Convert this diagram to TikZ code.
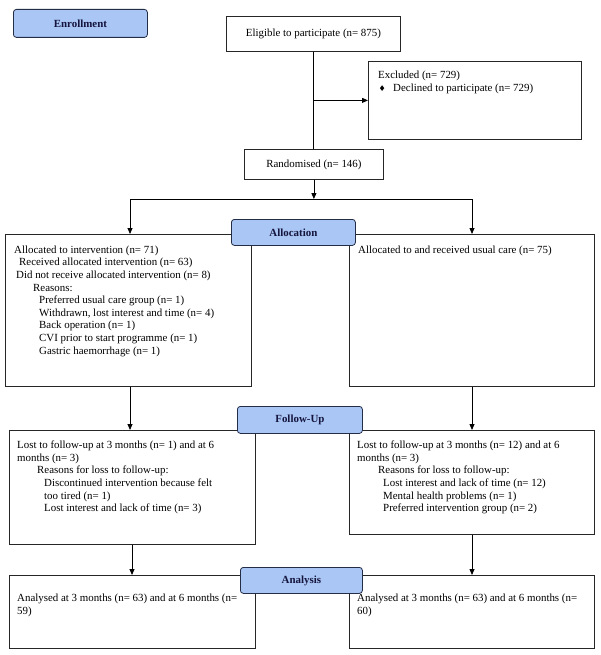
\documentclass[tikz,border=0pt]{standalone}
\usepackage{fontspec}
\setmainfont{Liberation Serif}
\newfontfamily\symfont{DejaVu Sans}
\usetikzlibrary{arrows.meta}
\definecolor{lblfill}{RGB}{170,198,245}
\definecolor{lbldraw}{RGB}{35,45,70}
\definecolor{lbltext}{RGB}{20,20,60}
\begin{document}
\begin{tikzpicture}[x=1pt,y=-1pt,
  box/.style={draw=black!85, line width=0.8pt, anchor=north west, inner sep=0pt, font=\fontsize{10.9}{12.6}\selectfont},
  lbl/.style={draw=lbldraw, fill=lblfill, rounded corners=3pt, line width=0.8pt, anchor=north west, inner sep=0pt, font=\fontsize{10.9}{12.6}\selectfont\bfseries, text=lbltext},
  txt/.style={anchor=north west, inner sep=0pt, align=left, font=\fontsize{10.9}{12.6}\selectfont},
  arr/.style={-{Triangle[length=6pt,width=5pt]}, line width=0.8pt},
  ln/.style={line width=0.8pt}]
\useasboundingbox (0,0) rectangle (600,655);
\fill[white] (0,0) rectangle (600,655);

% enrollment
\node[box, minimum width=174pt, minimum height=35pt] (elig) at (226,16) {Eligible to participate (n= 875)};
\node[box, minimum width=213pt, minimum height=78pt] (excl) at (368,61) {};
\node[txt] (exclt) at (378,69.5) {\rule{0pt}{9pt}Excluded (n= 729)\\
  \makebox[15pt][l]{\hspace{0.5pt}{\symfont\fontsize{8}{8}\selectfont ♦}}Declined to participate (n= 729)};
\node[box, minimum width=139pt, minimum height=30pt] (rand) at (244,149) {Randomised (n= 146)};

\draw[ln] (elig.south) -- (elig.south |- rand.north);
\draw[arr] (elig.south |- excl.west) -- (excl.west);

\coordinate (bl) at (130,199);
\coordinate (br) at (472,199);
\draw[arr] (rand.south) -- (rand.south |- bl);
\draw[ln] (bl) -- (br);

% allocation
\node[box, minimum width=246pt, minimum height=152pt] (la) at (5,234) {};
\node[box, minimum width=245pt, minimum height=152pt] (ra) at (349,234) {};
\node[txt] (lat) at (14,244) {\rule{0pt}{9pt}Allocated to intervention (n= 71)\\
  \hspace*{5pt}Received allocated intervention (n= 63)\\
  \hspace*{2pt}Did not receive allocated intervention (n= 8)\\
  \hspace*{19pt}Reasons:\\
  \hspace*{25pt}Preferred usual care group (n= 1)\\
  \hspace*{25pt}Withdrawn, lost interest and time (n= 4)\\
  \hspace*{25pt}Back operation (n= 1)\\
  \hspace*{25pt}CVI prior to start programme (n= 1)\\
  \hspace*{25pt}Gastric haemorrhage (n= 1)};
\node[txt] (rat) at (358,244.5) {\rule{0pt}{9pt}Allocated to and received usual care (n= 75)};
\draw[arr] (bl) -- (bl |- la.north);
\draw[arr] (br) -- (br |- ra.north);

% follow-up
\node[box, minimum width=246pt, minimum height=114pt] (lf) at (9,430) {};
\node[box, minimum width=245pt, minimum height=104pt] (rf) at (349,430) {};
\node[txt] (lft) at (17,439.5) {\rule{0pt}{9pt}Lost to follow-up at 3 months (n= 1) and at 6\\
  months (n= 3)\\
  \hspace*{20pt}Reasons for loss to follow-up:\\
  \hspace*{27pt}Discontinued intervention because felt\\
  \hspace*{27pt}too tired (n= 1)\\
  \hspace*{27pt}Lost interest and lack of time (n= 3)};
\node[txt] (rft) at (357,439.5) {\rule{0pt}{9pt}Lost to follow-up at 3 months (n= 12) and at 6\\
  months (n= 3)\\
  \hspace*{21pt}Reasons for loss to follow-up:\\
  \hspace*{26pt}Lost interest and lack of time (n= 12)\\
  \hspace*{26pt}Mental health problems (n= 1)\\
  \hspace*{26pt}Preferred intervention group (n= 2)};
\draw[arr] (bl |- la.south) -- (bl |- lf.north);
\draw[arr] (br |- ra.south) -- (br |- rf.north);

% analysis
\node[box, minimum width=246pt, minimum height=73pt] (lan) at (9,575) {};
\node[box, minimum width=245pt, minimum height=73pt] (ran) at (349,575) {};
\node[txt] (lant) at (17,592.5) {\rule{0pt}{9pt}Analysed at 3 months (n= 63) and at 6 months (n=\\59)};
\node[txt] (rant) at (357,592.5) {\rule{0pt}{9pt}Analysed at 3 months (n= 63) and at 6 months (n=\\60)};
\coordinate (al) at (132,544);
\draw[arr] (al |- lf.south) -- (al |- lan.north);
\draw[arr] (br |- rf.south) -- (br |- ran.north);

% stage labels
\node[lbl, minimum width=134pt, minimum height=28pt] (enr) at (13,9) {Enrollment};
\node[lbl, minimum width=124pt, minimum height=26pt] (alloc) at (231,219) {Allocation};
\node[lbl, minimum width=125pt, minimum height=27pt] (fol) at (237,406) {Follow-Up};
\node[lbl, minimum width=122pt, minimum height=26pt] (ana) at (240,567) {Analysis};
\end{tikzpicture}
\end{document}
